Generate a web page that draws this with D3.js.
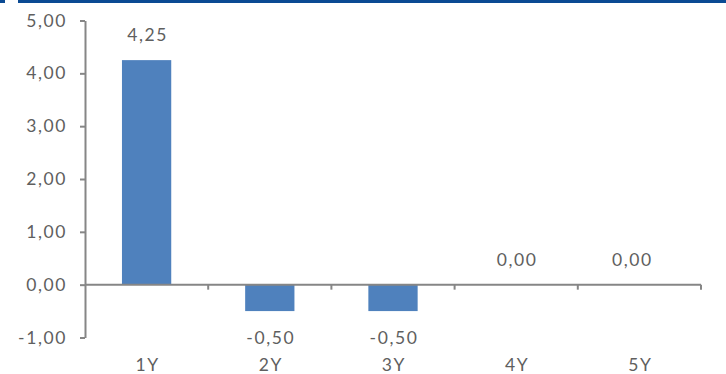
<!DOCTYPE html>
<html>
<head>
<meta charset="utf-8">
<script src="https://cdn.jsdelivr.net/npm/d3@7"></script>
<style>
  html, body { margin: 0; padding: 0; background: #fff; }
  svg { display: block; font-family: Lato, "Open Sans", Arial, sans-serif; }
  svg text { letter-spacing: 1.6px; }
</style>
</head>
<body>
<svg id="chart" width="726" height="374"></svg>
<script>
// Tenors and their values
const categories = ["1Y", "2Y", "3Y", "4Y", "5Y"];
const values = [4.25, -0.50, -0.50, 0.00, 0.00];
const yTicks = [-1, 0, 1, 2, 3, 4, 5];

const fmt = v => d3.format(".2f")(v).replace(".", ",").replace("−", "-");

const svg = d3.select("#chart");
const W = 726, H = 374;
const plotLeft = 85, plotRight = 701, plotTop = 20.5, plotBottom = 337.5;
const fontSize = 17.5;
const fontFamily = "Lato, Open Sans, Arial, sans-serif";

// Header strip
svg.append("rect").attr("x", 0).attr("y", 0).attr("width", 5).attr("height", 3).attr("fill", "#0b4a93");
svg.append("rect").attr("x", 18).attr("y", 0).attr("width", W - 18).attr("height", 3).attr("fill", "#0b4a93");

const x = d3.scaleBand().domain(categories).range([plotLeft, plotRight]).paddingInner(0.6).paddingOuter(0.3);
const xOuter = d3.scaleBand().domain(categories).range([plotLeft, plotRight]);
const y = d3.scaleLinear().domain([-1, 5]).range([plotBottom, plotTop]);

const axisColor = "#868686";
const textColor = "#5f5f5f";

// Bars
svg.append("g").selectAll("rect").data(values).join("rect")
  .attr("x", (d, i) => x(categories[i]))
  .attr("width", x.bandwidth())
  .attr("y", d => y(Math.max(0, d)))
  .attr("height", d => Math.abs(y(d) - y(0)))
  .attr("fill", "#4f81bd");

// Y axis
const yAxis = svg.append("g").attr("transform", `translate(${plotLeft},0)`)
  .call(d3.axisLeft(y).tickValues(yTicks).tickSize(5).tickSizeOuter(0).tickPadding(13).tickFormat(fmt));
yAxis.select(".domain").attr("stroke", axisColor).attr("stroke-width", 2);
yAxis.selectAll(".tick line").attr("stroke", axisColor).attr("stroke-width", 2);
yAxis.selectAll(".tick text").attr("fill", textColor).attr("font-size", fontSize).attr("font-family", fontFamily);

// X axis on the zero line
const xAxisG = svg.append("g").attr("transform", `translate(0,${y(0)})`);
xAxisG.append("line").attr("x1", plotLeft).attr("x2", plotRight).attr("stroke", axisColor).attr("stroke-width", 2);
const bounds = categories.map(c => xOuter(c) + xOuter.bandwidth());
xAxisG.selectAll("line.t").data(bounds).join("line").attr("class", "t")
  .attr("x1", d => d).attr("x2", d => d).attr("y1", 0).attr("y2", 5)
  .attr("stroke", axisColor).attr("stroke-width", 2);

// Category labels
svg.append("g").selectAll("text").data(categories).join("text")
  .attr("x", d => xOuter(d) + xOuter.bandwidth() / 2 + 1)
  .attr("y", 370.5)
  .attr("text-anchor", "middle")
  .attr("fill", textColor).attr("font-size", fontSize)
  .text(d => d);

// Value labels
svg.append("g").selectAll("text").data(values).join("text")
  .attr("x", (d, i) => xOuter(categories[i]) + xOuter.bandwidth() / 2 + 1 - (i === categories.length - 1 ? 8 : 0))
  .attr("y", d => d >= 0 ? y(d) - 19 : y(d) + 32.5)
  .attr("text-anchor", "middle")
  .attr("fill", textColor).attr("font-size", fontSize)
  .text(d => fmt(d));
</script>
</body>
</html>
